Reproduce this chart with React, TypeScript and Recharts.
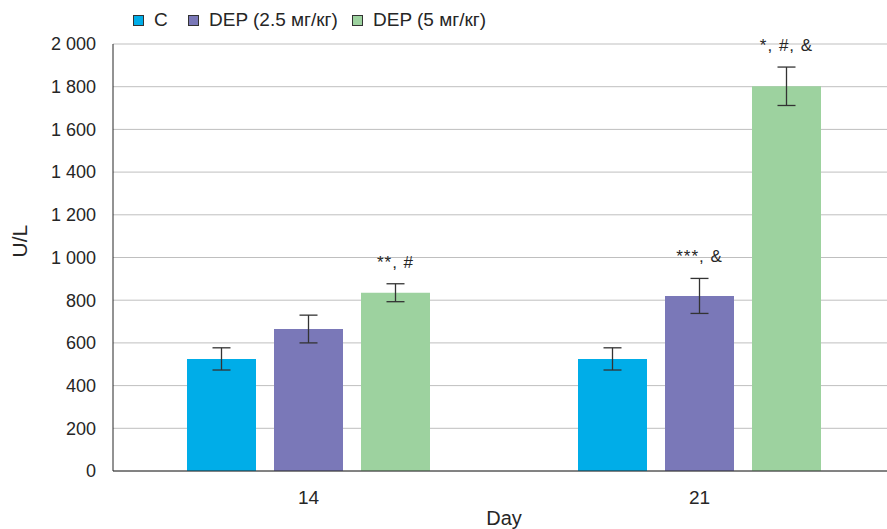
import React from "react";
import {
  BarChart,
  Bar,
  XAxis,
  YAxis,
  CartesianGrid,
  Legend,
  ErrorBar,
  LabelList,
} from "recharts";

const days = ["14", "21"];
const controlValues = [525, 525];
const controlErrors = [52, 52];
const dep25Values = [665, 820];
const dep25Errors = [65, 82];
const dep5Values = [835, 1802];
const dep5Errors = [42, 90];
const dep25Marks = ["", "***, &"];
const dep5Marks = ["**, #", "*, #, &"];
const yTicks = [0, 200, 400, 600, 800, 1000, 1200, 1400, 1600, 1800, 2000];

const series = [
  { key: "c", name: "C", color: "#00ADE8", errors: controlErrors, marks: null },
  { key: "d25", name: "DEP (2.5 мг/кг)", color: "#7A78B8", errors: dep25Errors, marks: dep25Marks },
  { key: "d5", name: "DEP (5 мг/кг)", color: "#9DD29F", errors: dep5Errors, marks: dep5Marks },
];

// legend item offsets, px from the legend's left edge
const legendOffsets = [0, 55, 219];

const data = days.map((day, i) => ({
  day,
  c: controlValues[i],
  cErr: controlErrors[i],
  d25: dep25Values[i],
  d25Err: dep25Errors[i],
  d5: dep5Values[i],
  d5Err: dep5Errors[i],
}));

const fmt = (v: number) => v.toLocaleString("en-US").replace(/,/g, " ");

const font = "'Liberation Sans', Arial, sans-serif";

const LegendBox = () => (
  <div style={{ position: "relative", height: 20, width: 400, fontFamily: font, fontSize: 19, color: "#262626", lineHeight: "20px" }}>
    {series.map((s, i) => (
      <div
        key={s.key}
        style={{ position: "absolute", left: legendOffsets[i], top: 0, display: "flex", alignItems: "center", whiteSpace: "nowrap" }}
      >
        <span
          style={{
            width: 9,
            height: 9,
            background: s.color,
            border: "1px solid #333",
            marginRight: 10,
            display: "inline-block",
          }}
        />
        <span>{s.name}</span>
      </div>
    ))}
  </div>
);

const makeMark = (marks: string[], errors: number[]) => (props: any) => {
  const { x, y, width, height, value, index } = props;
  const text = marks[index];
  if (!text || !value) return null;
  const perUnit = height / value;
  const errTop = y - errors[index] * perUnit;
  return (
    <text
      x={x + width / 2}
      y={errTop - 16}
      textAnchor="middle"
      fontSize={17}
      letterSpacing={1}
      fontFamily={font}
      fill="#262626"
    >
      {text}
    </text>
  );
};

export default function App() {
  return (
    <div style={{ position: "absolute", left: 0, top: 0 }}>
      <BarChart
        width={887}
        height={529}
        data={data}
        margin={{ top: 24, right: -8, left: 0, bottom: 0 }}
        barCategoryGap={74}
        barGap={18}
      >
        <CartesianGrid vertical={false} stroke="#BFBFBF" />
        <XAxis
          dataKey="day"
          height={58}
          tickLine={false}
          axisLine={{ stroke: "#262626" }}
          tick={{ fill: "#262626", fontSize: 19, fontFamily: font }}
          tickMargin={14}
          label={{
            value: "Day",
            position: "insideBottom",
            offset: 4,
            fill: "#262626",
            fontSize: 20,
            fontFamily: font,
          }}
        />
        <YAxis
          width={113}
          domain={[0, 2000]}
          ticks={yTicks}
          tickFormatter={fmt}
          tickLine={false}
          tickSize={0}
          tickMargin={17}
          axisLine={{ stroke: "#262626" }}
          tick={{ fill: "#262626", fontSize: 18, fontFamily: font }}
          label={{
            value: "U/L",
            angle: -90,
            position: "insideLeft",
            offset: 20,
            fill: "#262626",
            fontSize: 21,
            fontFamily: font,
          }}
        />
        <Legend
          verticalAlign="top"
          align="left"
          content={() => <LegendBox />}
          wrapperStyle={{ top: 10, left: 133 }}
        />
        {series.map((s) => (
          <Bar key={s.key} dataKey={s.key} name={s.name} fill={s.color} isAnimationActive={false}>
            <ErrorBar dataKey={s.key + "Err"} width={9} stroke="#333" strokeWidth={1.3} />
            {s.marks && (
              <LabelList dataKey={s.key} content={makeMark(s.marks, s.errors)} />
            )}
          </Bar>
        ))}
      </BarChart>
    </div>
  );
}
